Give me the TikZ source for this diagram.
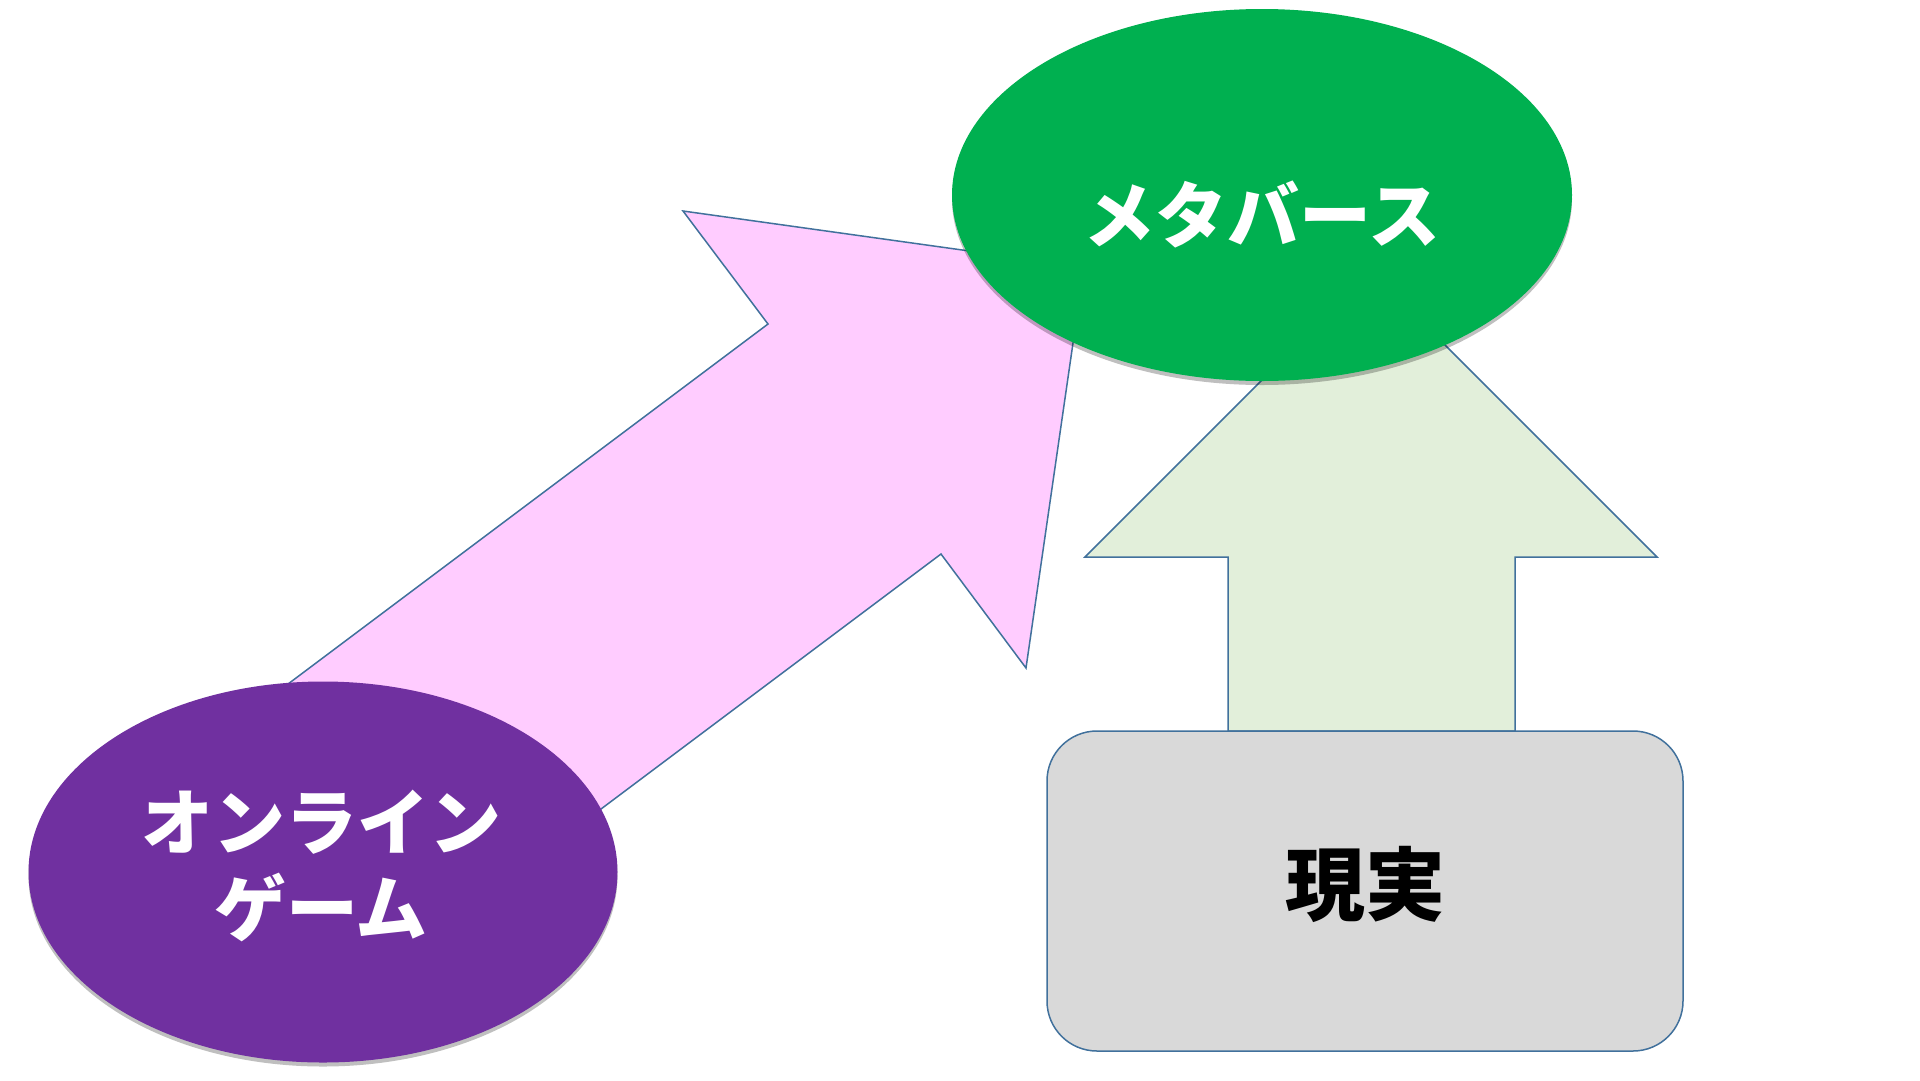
\documentclass[tikz,border=0pt]{standalone}
\usepackage{fontspec}
\newfontfamily\jp{Noto Sans CJK JP}
\usetikzlibrary{shapes.geometric,shadows}
\definecolor{mgreen}{HTML}{00B050}
\definecolor{mpurple}{HTML}{7030A0}
\definecolor{mpink}{HTML}{FFCCFF}
\definecolor{lgreen}{HTML}{E2EFDA}
\definecolor{mgray}{HTML}{D9D9D9}
\definecolor{edgeblue}{HTML}{41719C}
\begin{document}
\begin{tikzpicture}[x=1pt,y=-1pt,
  blockarrow/.style={draw=edgeblue, line width=1.5pt, line join=miter},
  oval/.style={ellipse, inner sep=0pt, draw=none,
    drop shadow={shadow xshift=0pt, shadow yshift=-4pt, opacity=0.25, fill=black}},
  txt/.style={font=\jp\bfseries\fontsize{72}{86}\selectfont, align=center, inner sep=0pt}]
\fill[white] (0,0) rectangle (1920,1080);
\useasboundingbox (0,0) rectangle (1920,1080);

% pink block arrow from online game to metaverse
\draw[blockarrow, fill=mpink] (232,726) coordinate (pa1) -- (768,324) -- (683,211) -- (1084,267) coordinate (ptip)
  -- (1026,668) -- (941,554) -- (405,956) -- cycle;

% online game ellipse
\node[oval, fill=mpurple, minimum width=589pt, minimum height=381pt] (game) at (323,872) {};
\node[txt, text=white] (gamet) at (321,866) {オンライン\\ゲーム};

% light green block arrow from reality up to metaverse
\draw[blockarrow, fill=lgreen] (1228,731) -- (1228,557) -- (1085,557) -- (1371,271) coordinate (gtip)
  -- (1657,557) -- (1515,557) -- (1515,731) -- cycle;

% metaverse ellipse
\node[oval, fill=mgreen, minimum width=620pt, minimum height=372pt] (meta) at (1262,195) {};
\node[txt, text=white] (metat) at (1262,214) {メタバース};

% reality box
\node[draw=edgeblue, line width=1.5pt, fill=mgray, rounded corners=50pt,
      minimum width=636pt, minimum height=320pt, inner sep=0pt] (real) at (1365,891) {};
\node[txt, text=black, font=\jp\bfseries\fontsize{80}{90}\selectfont] (realt) at (1365,884) {現実};
\end{tikzpicture}
\end{document}
